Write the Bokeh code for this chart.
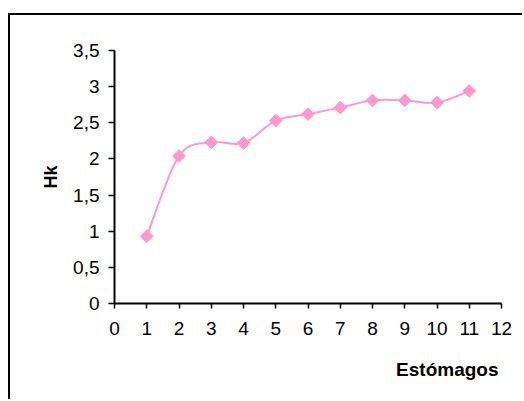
import math
from bokeh.plotting import figure
from bokeh.models import Range1d, FixedTicker, Title
from bokeh.embed import file_html
from bokeh.resources import INLINE

# data
estomagos = [1, 2, 3, 4, 5, 6, 7, 8, 9, 10, 11]
hk = [0.93, 2.04, 2.23, 2.22, 2.53, 2.62, 2.71, 2.81, 2.81, 2.78, 2.94]
x_ticks = list(range(0, 13))
y_ticks = [0, 0.5, 1, 1.5, 2, 2.5, 3, 3.5]
y_tick_labels = ["0", "0,5", "1", "1,5", "2", "2,5", "3", "3,5"]

PINK = "#FF99CC"
FONT = "Liberation Sans"

# canvas placed at (10, 15) on the page (after margin + 2px border)
p = figure(width=514, height=386, output_backend="svg", toolbar_location=None,
           x_range=Range1d(0, 12), y_range=Range1d(0, 3.5),
           min_border_left=104, min_border_right=23, min_border_top=35, min_border_bottom=98)
p.styles = {"margin-left": "8px", "margin-top": "13px",
            "border-top": "2px solid black", "border-left": "2px solid black"}
p.outline_line_color = None
p.xgrid.visible = False
p.ygrid.visible = False
p.background_fill_color = "white"
p.border_fill_color = "white"

for ax in (p.xaxis[0], p.yaxis[0]):
    ax.axis_line_color = "black"
    ax.axis_line_width = 2
    ax.major_tick_line_color = "black"
    ax.major_tick_line_width = 1.5
    ax.major_tick_in = 0
    ax.minor_tick_line_color = None
    ax.major_label_text_font = FONT
    ax.major_label_text_font_size = "19px"
    ax.major_label_text_color = "black"

p.xaxis.ticker = FixedTicker(ticks=x_ticks)
p.xaxis.major_tick_out = 5
p.xaxis.major_label_standoff = 13
p.yaxis.ticker = FixedTicker(ticks=y_ticks)
p.yaxis.major_label_overrides = {t: l for t, l in zip(y_ticks, y_tick_labels)}
p.yaxis.major_tick_out = 6
p.yaxis.major_label_standoff = 9
p.yaxis.axis_label = "Hk"
p.yaxis.axis_label_text_font = FONT
p.yaxis.axis_label_text_font_size = "18px"
p.yaxis.axis_label_text_font_style = "bold"
p.yaxis.axis_label_text_color = "black"
p.yaxis.axis_label_standoff = 9

# smooth line (Catmull-Rom style bezier segments through the data points)
n = len(estomagos)
x0s, y0s, x1s, y1s, cx0, cy0, cx1, cy1 = [], [], [], [], [], [], [], []
for i in range(n - 1):
    xp = estomagos[i - 1] if i > 0 else estomagos[i]
    yp = hk[i - 1] if i > 0 else hk[i]
    xn = estomagos[i + 2] if i + 2 < n else estomagos[i + 1]
    yn = hk[i + 2] if i + 2 < n else hk[i + 1]
    x0s.append(estomagos[i]); y0s.append(hk[i])
    x1s.append(estomagos[i + 1]); y1s.append(hk[i + 1])
    cx0.append(estomagos[i] + (estomagos[i + 1] - xp) / 6)
    cy0.append(hk[i] + (hk[i + 1] - yp) / 6)
    cx1.append(estomagos[i + 1] - (xn - estomagos[i]) / 6)
    cy1.append(hk[i + 1] - (yn - hk[i]) / 6)

p.bezier(x0=x0s, y0=y0s, x1=x1s, y1=y1s, cx0=cx0, cy0=cy0, cx1=cx1, cy1=cy1,
         line_color=PINK, line_width=2)
p.scatter(estomagos, hk, marker="square", size=9, angle=math.pi / 4,
          fill_color=PINK, line_color=PINK)

p.add_layout(Title(text="Estómagos", align="right", offset=3, standoff=38,
                   text_font=FONT, text_font_size="19px", text_font_style="bold",
                   text_color="black"), "below")

open("out.html", "w").write(file_html(p, INLINE))
